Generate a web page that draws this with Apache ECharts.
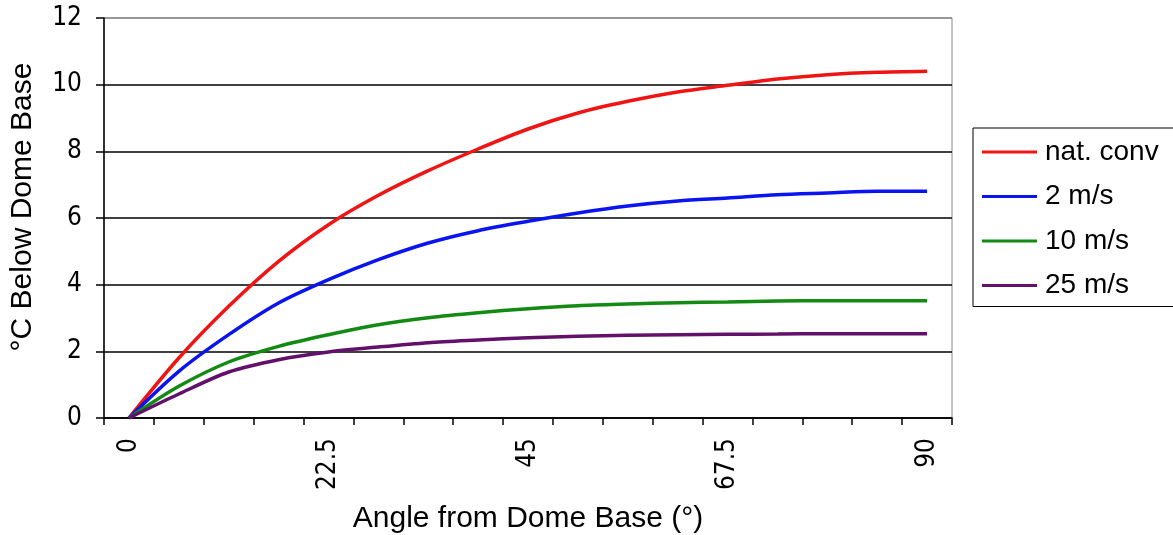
<!DOCTYPE html>
<html>
<head>
<meta charset="utf-8">
<title>Angle from Dome Base</title>
<script src="https://cdn.jsdelivr.net/npm/echarts@6/dist/echarts.min.js"></script>
<style>
  html, body { margin: 0; padding: 0; background: #fff; }
  #chart { width: 1173px; height: 535px; }
</style>
</head>
<body>
<div id="chart"></div>
<script>
// angle categories (deg), one every 5.625
const angles = ['0', '5.625', '11.25', '16.875', '22.5', '28.125', '33.75', '39.375', '45',
  '50.625', '56.25', '61.875', '67.5', '73.125', '78.75', '84.375', '90'];

// degrees C below dome base
const natConv = [0, 1.8, 3.35, 4.7, 5.8, 6.68, 7.42, 8.07, 8.67, 9.15, 9.5, 9.78, 9.98, 10.17, 10.3, 10.37, 10.4];
const wind2 = [0, 1.4, 2.5, 3.45, 4.15, 4.75, 5.25, 5.62, 5.9, 6.15, 6.36, 6.51, 6.6, 6.7, 6.75, 6.8, 6.8];
const wind10 = [0, 0.95, 1.68, 2.15, 2.5, 2.8, 3.01, 3.16, 3.28, 3.37, 3.42, 3.46, 3.48, 3.51, 3.52, 3.52, 3.52];
const wind25 = [0, 0.72, 1.38, 1.75, 1.98, 2.13, 2.26, 2.34, 2.41, 2.45, 2.48, 2.5, 2.51, 2.52, 2.53, 2.53, 2.53];

const seriesNames = ['nat. conv', '2 m/s', '10 m/s', '25 m/s'];
const seriesColors = ['#f01414', '#0a14f0', '#138a13', '#62106a'];

const tickFont = '"Liberation Sans Narrow", "DejaVu Sans Condensed", "Liberation Sans", sans-serif';
const titleFont = '"Liberation Sans", Arial, sans-serif';

const chart = echarts.init(document.getElementById('chart'));

const makeLine = (name, data, color) => ({
  name: name,
  type: 'line',
  data: data,
  symbol: 'none',
  smooth: 0.3,
  color: color,
  itemStyle: { color: color },
  lineStyle: { color: color, width: 3.5 },
});

const option = {
  backgroundColor: '#fff',
  animation: false,
  grid: {
    left: 104,
    right: 221,
    top: 18,
    bottom: 117,
    outerBoundsMode: 'none',
    show: true,
    borderColor: '#888',
    borderWidth: 1,
  },
  legend: {
    orient: 'vertical',
    left: 973,
    top: 128,
    padding: [9, 60, 6, 9],
    borderColor: '#000',
    borderWidth: 1,
    icon: 'rect',
    itemWidth: 55,
    itemHeight: 3,
    itemGap: 14.5,
    textStyle: {
      fontFamily: titleFont,
      fontSize: 28,
      lineHeight: 30,
      color: '#000',
      padding: [0, 0, 0, 3],
    },
    data: seriesNames,
  },
  xAxis: {
    type: 'category',
    data: angles,
    boundaryGap: true,
    name: 'Angle from Dome Base (°)',
    nameLocation: 'middle',
    nameGap: 86,
    nameTextStyle: { fontFamily: titleFont, fontSize: 30, color: '#000' },
    axisLine: { lineStyle: { color: '#000', width: 1.5 } },
    axisTick: { show: true, interval: 0, length: 7, lineStyle: { color: '#000', width: 1.5 } },
    axisLabel: {
      interval: 3,
      rotate: 90,
      margin: 20,
      fontFamily: tickFont,
      fontSize: 26,
      color: '#000',
    },
    splitLine: { show: false },
  },
  yAxis: {
    type: 'value',
    min: 0,
    max: 12,
    interval: 2,
    name: '°C Below Dome Base',
    nameLocation: 'middle',
    nameGap: 66,
    nameTextStyle: {
      fontFamily: titleFont,
      fontSize: 30,
      color: '#000',
      padding: [0, 0, 0, 22],
    },
    axisLine: { show: true, lineStyle: { color: '#000', width: 1.5 } },
    axisTick: { show: true, length: 8, lineStyle: { color: '#000', width: 1.5 } },
    axisLabel: {
      margin: 22,
      fontFamily: tickFont,
      fontSize: 26,
      color: '#000',
    },
    splitLine: {
      lineStyle: {
        // last one is the top border, grey like the frame
        color: ['#000', '#000', '#000', '#000', '#000', '#000', '#888'],
        width: 1.5,
      },
    },
  },
  series: [
    makeLine(seriesNames[0], natConv, seriesColors[0]),
    makeLine(seriesNames[1], wind2, seriesColors[1]),
    makeLine(seriesNames[2], wind10, seriesColors[2]),
    makeLine(seriesNames[3], wind25, seriesColors[3]),
  ],
};

chart.setOption(option);
</script>
</body>
</html>
